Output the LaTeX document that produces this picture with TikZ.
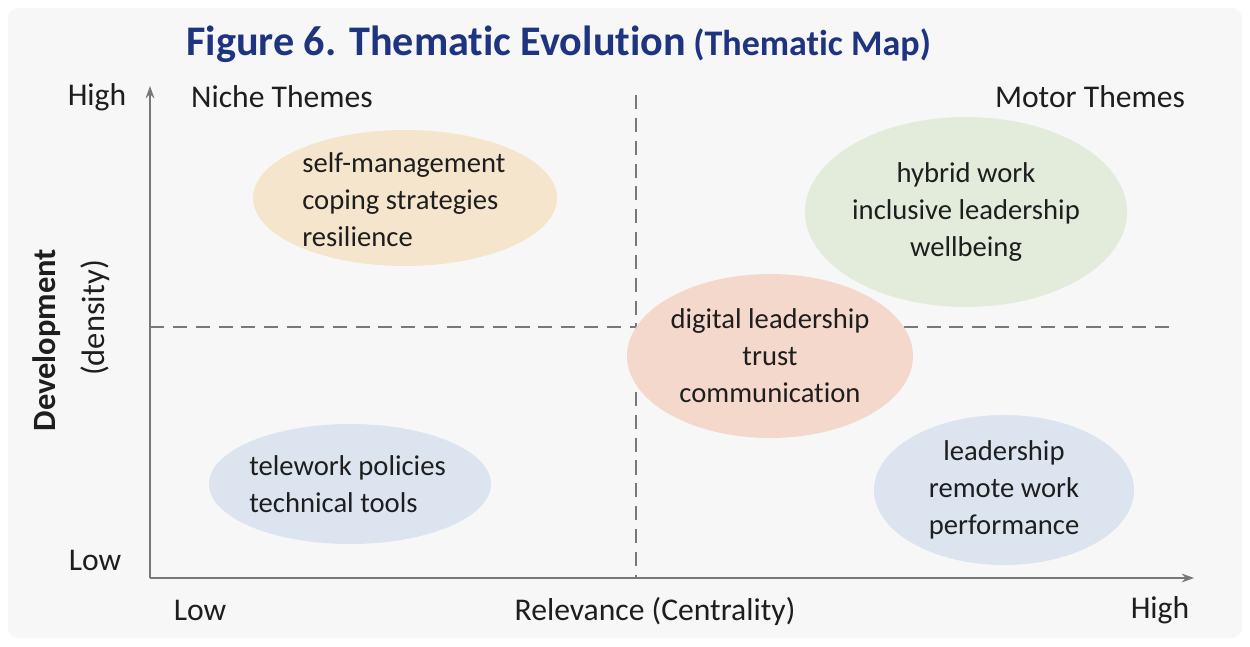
\documentclass[tikz,border=0pt]{standalone}
\usepackage{fontspec}
\setmainfont{Carlito}[Ligatures=NoCommon]
\usetikzlibrary{shapes.geometric}
\usetikzlibrary{arrows.meta}
\definecolor{titelblau}{RGB}{30,52,128}
\definecolor{achse}{RGB}{120,120,120}
\definecolor{grund}{RGB}{247,247,247}
\definecolor{orangefeld}{RGB}{245,229,205}
\definecolor{gruenfeld}{RGB}{227,236,218}
\definecolor{rosafeld}{RGB}{244,216,204}
\definecolor{blaufeld}{RGB}{220,228,239}
\definecolor{schrift}{RGB}{30,30,30}

\begin{document}
\begin{tikzpicture}[x=0.02cm,y=-0.02cm,
	thema/.style={ellipse,inner sep=0pt,text=schrift,font=\fontsize{16.3}{21}\selectfont,align=center},
	themalinks/.style={text=schrift,font=\fontsize{16.3}{21}\selectfont,align=left,anchor=west,inner sep=0pt},
	achsentext/.style={text=schrift,font=\fontsize{18}{21}\selectfont},
	trenner/.style={achse,dashed,dash pattern=on 8pt off 5pt,thick}] % Niche links oben, Motor rechts oben
	\useasboundingbox (0,0) rectangle (1250,646);
	\fill[white] (0,0) rectangle (1250,646);
	\fill[grund,rounded corners=6pt] (8,8) rectangle (1242,638);
	% Titel
	\node[anchor=base west,text=titelblau,font=\fontsize{24}{28}\bfseries,inner sep=0pt] (titel) at (186,55) {Figure 6. Thematic Evolution};
	\node[anchor=base west,text=titelblau,font=\fontsize{20.5}{24}\bfseries,inner sep=0pt] (untertitel) at (693,55) {(Thematic Map)};
	% Achsen
	\coordinate (O) at (150,578);
	\coordinate (Y) at (150,86);
	\coordinate (X) at (1194,578);
	\draw[achse,thick,-{Stealth[length=7pt,width=5pt]}] (O) -- (Y);
	\draw[achse,thick,-{Stealth[length=7pt,width=5pt]}] (O) -- (X);
	% Quadrantengrenzen
	\coordinate (V1) at (636,95);
	\coordinate (V2) at (636,578);
	\coordinate (H1) at (150,327);
	\coordinate (H2) at (1172,327);
	\draw[trenner] (V1) -- (V2);
	\draw[trenner] (H1) -- (H2);
	% Beschriftung
	\node[achsentext] (yhoch) at (97,97) {High};
	\node[achsentext] (ytief) at (95,560) {Low};
	\node[achsentext] (xtief) at (200,610) {Low};
	\node[achsentext] (xhoch) at (1160,610) {High};
	\node[achsentext] (xname) at (655,611) {Relevance (Centrality)};
	\node[achsentext,rotate=90,font=\fontsize{18.5}{21}\bfseries] (yname) at (47,340) {Development};
	\node[achsentext,rotate=90,font=\fontsize{18.5}{21}\selectfont] (ydichte) at (95,318) {(density)};
	\node[achsentext] (nische) at (282,97) {Niche Themes};
	\node[achsentext] (motor) at (1090,97) {Motor Themes};
	% Themenfelder
	\node[thema,fill=orangefeld,minimum width=6.08cm,minimum height=2.72cm] (K1) at (405,198) {};
	\node[themalinks] (T1) at (302,200) {self-management\\coping strategies\\resilience};
	\node[thema,fill=gruenfeld,minimum width=5.6cm,minimum height=3.8cm] (K2) at (966,212) {hybrid work\\inclusive leadership\\wellbeing};
	\node[thema,fill=rosafeld,minimum width=5.72cm,minimum height=3.28cm] (K3) at (770,356) {digital leadership\\trust\\communication};
	\node[thema,fill=blaufeld,minimum width=5.64cm,minimum height=2.4cm] (K4) at (350,484) {};
	\node[themalinks] (T4) at (249,484) {telework policies\\technical tools};
	\node[thema,fill=blaufeld,minimum width=5.2cm,minimum height=3cm] (K5) at (1004,490) {leadership\\remote work\\performance};
\end{tikzpicture}
\end{document}
